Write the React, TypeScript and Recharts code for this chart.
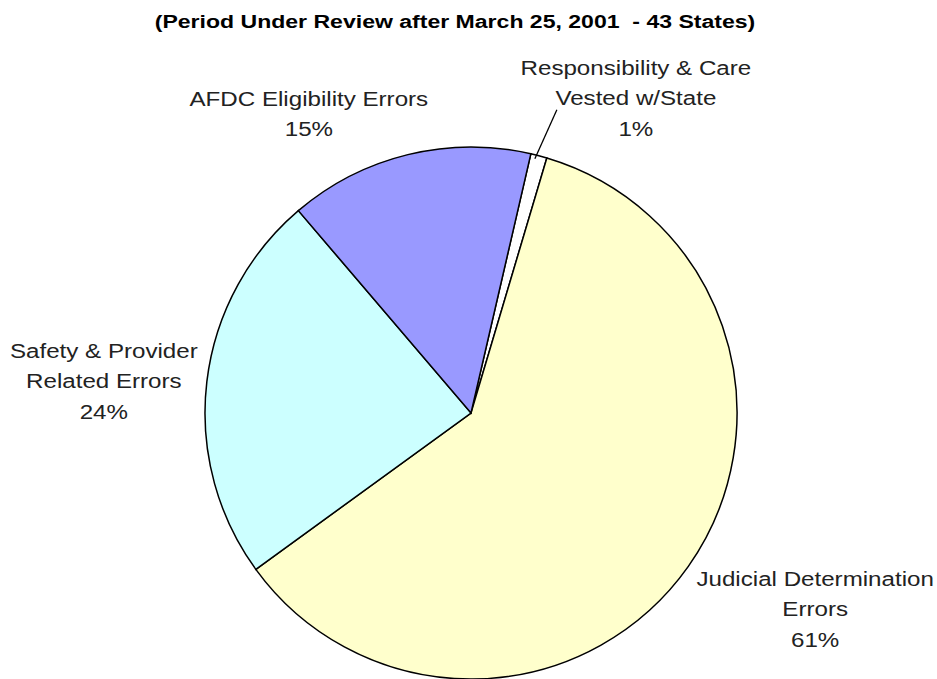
import { PieChart, Pie, Cell } from "recharts";

const categories = [
  ["Responsibility & Care", "Vested w/State"],
  ["Judicial Determination", "Errors"],
  ["Safety & Provider", "Related Errors"],
  ["AFDC Eligibility Errors"],
];
const percents = [1, 61, 24, 15];
const colors = ["#FFFFFF", "#FFFFCC", "#CCFFFF", "#9999FF"];

// label nudges from the arc point at each slice's mid angle
const labelNudge = [
  { dx: 97, dy: -81 },
  { dx: 127, dy: 19 },
  { dx: -103, dy: -24 },
  { dx: -99, dy: -49 },
];

const data = categories.map((lines, i) => ({
  name: lines.join(" "),
  lines,
  value: percents[i],
}));

const RAD = Math.PI / 180;
const FONT = "'Liberation Sans', Arial, sans-serif";

function renderLabel(props: any) {
  const { cx, cy, midAngle, outerRadius, index } = props;
  const ax = cx + outerRadius * Math.cos(-midAngle * RAD);
  const ay = cy + outerRadius * Math.sin(-midAngle * RAD);
  const n = labelNudge[index];
  const lines = [...data[index].lines, `${percents[index]}%`];
  return (
    <g key={`lbl-${index}`}>
      {index === 0 && (
        <line
          x1={ax - 4}
          y1={ay + 3}
          x2={ax + 18}
          y2={ay - 46}
          stroke="#000"
          strokeWidth={1.3}
        />
      )}
      <g transform={`translate(${ax + n.dx},${ay + n.dy}) scale(1.15,1)`}>
        {lines.map((t, j) => (
          <text
            key={j}
            x={0}
            y={j * 30.5}
            textAnchor="middle"
            fontFamily={FONT}
            fontSize={21}
            fill="#222"
          >
            {t}
          </text>
        ))}
      </g>
    </g>
  );
}

export default function App() {
  return (
    <div
      style={{
        position: "absolute",
        left: 0,
        top: 0,
        width: 937,
        height: 679,
        background: "#fff",
      }}
    >
      <div
        style={{
          position: "absolute",
          left: 0,
          top: 12,
          width: 910,
          textAlign: "center",
          fontFamily: FONT,
          fontWeight: "bold",
          fontSize: 18,
          lineHeight: "21px",
          color: "#000",
          transform: "scaleX(1.28)",
          transformOrigin: "455px 0",
          whiteSpace: "pre",
        }}
      >
        (Period Under Review after March 25, 2001  - 43 States)
      </div>
      <PieChart width={937} height={679} style={{ position: "absolute", left: 0, top: 0 }}>
        <Pie
          data={data}
          dataKey="value"
          cx={466}
          cy={408}
          outerRadius={266}
          startAngle={77}
          endAngle={-283}
          stroke="#000"
          strokeWidth={1.5}
          label={renderLabel}
          labelLine={false}
          isAnimationActive={false}
        >
          {data.map((d, i) => (
            <Cell key={d.name} fill={colors[i]} />
          ))}
        </Pie>
      </PieChart>
    </div>
  );
}
